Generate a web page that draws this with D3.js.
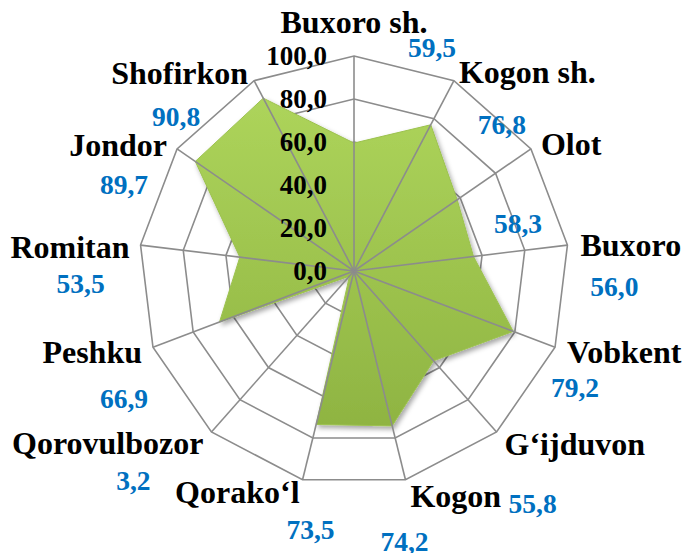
<!DOCTYPE html>
<html>
<head>
<meta charset="utf-8">
<script src="https://cdn.jsdelivr.net/npm/d3@7"></script>
<style>
  html, body { margin: 0; padding: 0; background: #fff; }
  svg { display: block; }
  text { font-family: "Liberation Serif", "Times New Roman", serif; font-weight: bold; }
</style>
</head>
<body>
<svg id="chart" width="684" height="553"></svg>
<script>
// 数据
const districts = ["Buxoro sh.", "Kogon sh.", "Olot", "Buxoro", "Vobkent", "G‘ijduvon", "Kogon",
  "Qorako‘l", "Qorovulbozor", "Peshku", "Romitan", "Jondor", "Shofirkon"];
const values = [59.5, 76.8, 58.3, 56.0, 79.2, 55.8, 74.2, 73.5, 3.2, 66.9, 53.5, 89.7, 90.8];
const ticks = [0, 20, 40, 60, 80, 100];

// ラベルの位置調整 (外周の頂点からのずれ)
const nameOffset = [[0, -34, "middle"], [5, -9, "start"], [10, -5, "start"], [13, 0, "start"],
  [12, 5, "start"], [8, 12, "start"], [5, 16, "start"], [-3, 12, "end"], [-8, 11, "end"],
  [-11, 5, "end"], [-11, 2, "end"], [-10, -4, "end"], [-6, -8, "end"]];
const valueOffset = [[78, -9], [48, 44], [-13, 75], [47, 41], [20, 40], [36, 71], [-1, 62],
  [8, 50], [-78, 48], [-29, 51], [-60, 38], [-53, 36], [-78, 36]];

const cx = 354, cy = 271, R = 215;
const fmt = (v) => d3.format(".1f")(v).replace(".", ",");

const svg = d3.select("#chart");
const r = d3.scaleLinear().domain([0, 100]).range([0, R]);
const angle = d3.scaleLinear().domain([0, districts.length]).range([0, 2 * Math.PI]);
const pt = (i, v) => [cx + r(v) * Math.sin(angle(i)), cy - r(v) * Math.cos(angle(i))];

// グラデーションと影
const defs = svg.append("defs");
const grad = defs.append("linearGradient").attr("id", "green")
  .attr("x1", 0).attr("y1", 0).attr("x2", 0).attr("y2", 1);
grad.append("stop").attr("offset", "0%").attr("stop-color", "#add45b");
grad.append("stop").attr("offset", "100%").attr("stop-color", "#8fb442");
const shadow = defs.append("filter").attr("id", "shadow")
  .attr("x", "-10%").attr("y", "-10%").attr("width", "120%").attr("height", "120%");
shadow.append("feDropShadow").attr("dx", 2).attr("dy", 3).attr("stdDeviation", 2.5)
  .attr("flood-color", "#000").attr("flood-opacity", 0.35);

const g = svg.append("g");

// 同心の多角形 (グリッド)
g.selectAll(".ring")
  .data(ticks.filter((t) => t > 0))
  .enter()
  .append("path")
  .attr("class", "ring")
  .attr("d", (t) => d3.line()(districts.map((d, i) => pt(i, t))) + "Z")
  .attr("fill", "none")
  .attr("stroke", "#8c8c8c")
  .attr("stroke-width", 1.6);

// データの多角形
const radial = d3.lineRadial()
  .angle((d, i) => angle(i))
  .radius((d) => r(d))
  .curve(d3.curveLinearClosed);
g.append("path")
  .attr("transform", `translate(${cx},${cy})`)
  .attr("d", radial(values))
  .attr("fill", "url(#green)")
  .attr("stroke", "#9cc24e")
  .attr("stroke-width", 1)
  .attr("filter", "url(#shadow)");

// 放射線
g.selectAll(".spoke")
  .data(districts)
  .enter()
  .append("line")
  .attr("class", "spoke")
  .attr("x1", cx).attr("y1", cy)
  .attr("x2", (d, i) => pt(i, 100)[0])
  .attr("y2", (d, i) => pt(i, 100)[1])
  .attr("stroke", "#8c8c8c")
  .attr("stroke-width", 1.6);

// 目盛りラベル
g.selectAll(".tick")
  .data(ticks)
  .enter()
  .append("text")
  .attr("x", cx - 27)
  .attr("y", (t) => cy - r(t))
  .attr("dy", "0.35em")
  .attr("text-anchor", "end")
  .attr("font-size", 27)
  .attr("fill", "#000")
  .text(fmt);

// 地区名
g.selectAll(".name")
  .data(districts)
  .enter()
  .append("text")
  .attr("x", (d, i) => pt(i, 100)[0] + nameOffset[i][0])
  .attr("y", (d, i) => pt(i, 100)[1] + nameOffset[i][1])
  .attr("dy", "0.35em")
  .attr("text-anchor", (d, i) => nameOffset[i][2])
  .attr("font-size", 32)
  .attr("fill", "#000")
  .text((d) => d);

// 値ラベル
g.selectAll(".val")
  .data(values)
  .enter()
  .append("text")
  .attr("x", (d, i) => pt(i, 100)[0] + valueOffset[i][0])
  .attr("y", (d, i) => pt(i, 100)[1] + valueOffset[i][1])
  .attr("dy", "0.35em")
  .attr("text-anchor", "middle")
  .attr("font-size", 27.5)
  .attr("fill", "#0070c0")
  .text(fmt);
</script>
</body>
</html>
